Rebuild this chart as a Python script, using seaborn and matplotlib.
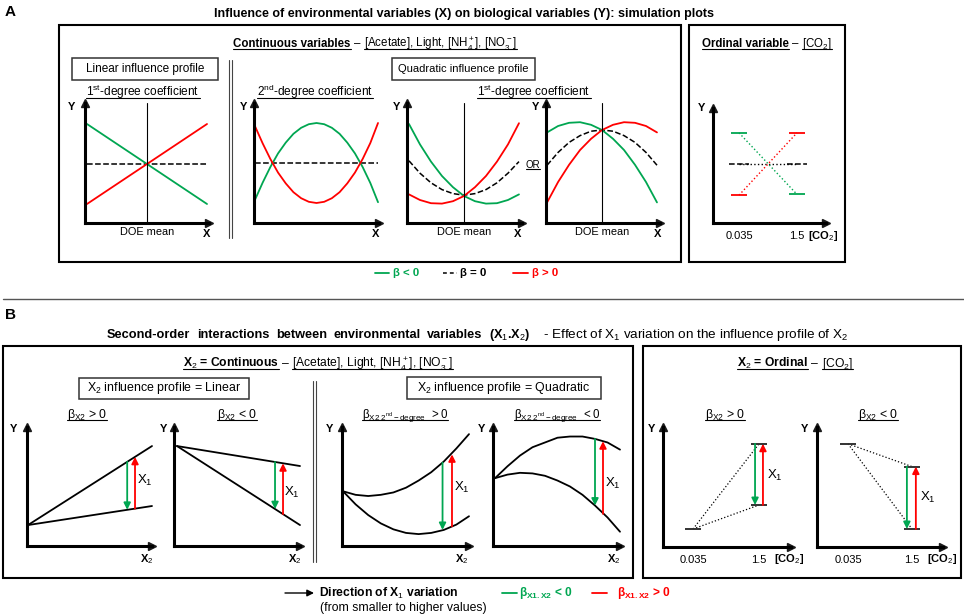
import matplotlib
matplotlib.use("Agg")
import matplotlib.pyplot as plt
import seaborn as sns
from matplotlib.patches import Rectangle

# ---- data ----
# panel A, continuous X (DOE mean = 0)
x_lin = [-1.0, 1.0]
lin_neg = [1.0, -1.0]
lin_zero = [0.0, 0.0]
lin_pos = [-1.0, 1.0]

x_sec = [-1.0, -0.875, -0.75, -0.625, -0.5, -0.375, -0.25, -0.125, 0.0,
         0.125, 0.25, 0.375, 0.5, 0.625, 0.75, 0.875, 1.0]
sec_neg = [-0.92, -0.49, -0.1, 0.24, 0.51, 0.73, 0.88, 0.97, 1.0,
           0.97, 0.88, 0.73, 0.51, 0.24, -0.1, -0.5, -0.98]
sec_zero = [0.0] * 17
sec_pos = [0.92, 0.49, 0.1, -0.24, -0.51, -0.73, -0.88, -0.97, -1.0,
           -0.97, -0.88, -0.73, -0.51, -0.24, 0.1, 0.5, 1.0]

x_deg = [-1.0, -0.8, -0.6, -0.4, -0.2, 0.0, 0.2, 0.4, 0.6, 0.8, 1.0]
qmin_neg = [1.0, 0.49, 0.06, -0.30, -0.58, -0.80, -0.93, -0.99, -0.98, -0.90, -0.76]
qmin_zero = [0.08, -0.23, -0.47, -0.64, -0.74, -0.78, -0.74, -0.64, -0.47, -0.23, 0.06]
qmin_pos = [-0.76, -0.90, -0.98, -0.99, -0.93, -0.80, -0.58, -0.30, 0.06, 0.49, 1.02]

qmax_neg = [0.79, 0.95, 1.03, 1.045, 0.98, 0.85, 0.63, 0.35, -0.02, -0.45, -0.96]
qmax_zero = [-0.03, 0.29, 0.54, 0.71, 0.82, 0.85, 0.82, 0.71, 0.54, 0.29, -0.03]
qmax_pos = [-0.96, -0.45, -0.02, 0.35, 0.63, 0.85, 0.98, 1.045, 1.03, 0.95, 0.79]

# panel A, ordinal [CO2]
co2_levels = ["0.035", "1.5"]
co2_pos = [0, 1]
ord_neg = [0.78, -0.76]
ord_zero = [0.0, 0.0]
ord_pos = [-0.78, 0.78]

# panel B, interactions
x_two = [0.0, 1.0]
blin_up_hi = [0.176, 0.84]
blin_up_lo = [0.176, 0.336]
blin_dn_hi = [0.84, 0.672]
blin_dn_lo = [0.84, 0.176]

x_b = [0.0, 0.1, 0.2, 0.3, 0.4, 0.5, 0.6, 0.7, 0.8, 0.9, 1.0]
bq_up_hi = [0.46, 0.43, 0.42, 0.43, 0.45, 0.49, 0.55, 0.62, 0.71, 0.82, 0.94]
bq_up_lo = [0.46, 0.35, 0.26, 0.19, 0.14, 0.11, 0.10, 0.11, 0.135, 0.18, 0.25]
bq_dn_hi = [0.57, 0.67, 0.76, 0.83, 0.87, 0.91, 0.92, 0.92, 0.90, 0.87, 0.81]
bq_dn_lo = [0.57, 0.60, 0.615, 0.61, 0.59, 0.55, 0.50, 0.43, 0.34, 0.24, 0.12]

bord_up = [0.15, 0.86, 0.35]   # low CO2, high CO2 (upper), high CO2 (lower)
bord_dn = [0.86, 0.67, 0.15]

# X1 arrows: (x, start, end)
arr_lin_up = [(0.80, 0.707, 0.304), (0.863, 0.314, 0.749)]
arr_lin_dn = [(0.797, 0.706, 0.31), (0.862, 0.268, 0.695)]
arr_q_up = [(0.79, 0.70, 0.135), (0.865, 0.165, 0.77)]
arr_q_dn = [(0.80, 0.90, 0.34), (0.864, 0.27, 0.88)]
arr_ord_up = [(0.94, 0.86, 0.35), (1.06, 0.35, 0.86)]
arr_ord_dn = [(0.92, 0.67, 0.15), (1.06, 0.15, 0.67)]

GREEN = "#00A651"
RED = "#FF0000"

sns.set_theme(style="white")
plt.rcParams["font.family"] = ["Liberation Sans", "DejaVu Sans"]
plt.rcParams["mathtext.fontset"] = "custom"
plt.rcParams["mathtext.rm"] = "Liberation Sans"
plt.rcParams["mathtext.it"] = "Liberation Sans:italic"
plt.rcParams["mathtext.bf"] = "Liberation Sans:bold"
plt.rcParams["text.color"] = "black"
plt.rcParams["xtick.color"] = "black"

W, H = 964, 616
fig = plt.figure(figsize=(W / 100, H / 100), dpi=100)
over = fig.add_axes([0, 0, 1, 1])
over.set_xlim(0, W)
over.set_ylim(H, 0)
over.axis("off")
R = fig.canvas.get_renderer()


def label(x, y, s, size=8, weight="normal", color="black", ha="center"):
    over.text(x, y, s, fontsize=size, fontweight=weight, color=color, ha=ha, va="center")


def rich(x, yc, parts, size=8, color="black", ha="center", extra=0.0):
    # parts: (text, weight, underline)
    base = yc + 0.36 * size * 100 / 72
    objs = []
    for s, w, ul in parts:
        t = over.text(0, base, s, fontsize=size, fontweight=w, color=color,
                      ha="left", va="baseline")
        objs.append((t, ul, t.get_window_extent(R).width))
    gap = 0.28 * size * 100 / 72 + extra
    total = sum(o[2] for o in objs) + gap * (len(objs) - 1)
    cur = x - total / 2 if ha == "center" else x
    for t, ul, w in objs:
        t.set_x(cur)
        if ul:
            over.plot([cur, cur + w], [base + 1.6, base + 1.6], color=color, lw=0.8)
        cur += w + gap


def box(l, t, r, b, lw=1.5, color="black"):
    over.add_patch(Rectangle((l, t), r - l, b - t, fill=False, lw=lw, edgecolor=color))


def mini(l, t, r, b, xlim, ylim):
    ax = fig.add_axes([l / W, 1 - b / H, (r - l) / W, (b - t) / H])
    ax.set_facecolor("none")
    for s in ["top", "right"]:
        ax.spines[s].set_visible(False)
    for s in ["left", "bottom"]:
        ax.spines[s].set_linewidth(2.2)
        ax.spines[s].set_color("black")
    ax.plot(1, 0, ">k", transform=ax.transAxes, clip_on=False, ms=6)
    ax.plot(0, 1, "^k", transform=ax.transAxes, clip_on=False, ms=6)
    ax.set_xticks([])
    ax.set_yticks([])
    ax.set_xlim(xlim)
    ax.set_ylim(ylim)
    return ax


def curve(ax, x, y, color, ls="-", lw=1.3):
    sns.lineplot(x=x, y=y, ax=ax, color=color, linestyle=ls, lw=lw, clip_on=False)
    ax.set_xlabel("")
    ax.set_ylabel("")


def x1_arrow(ax, x, y0, y1, color):
    ax.annotate("", xy=(x, y1), xytext=(x, y0),
                arrowprops=dict(arrowstyle="-|>", color=color, lw=1.3,
                                mutation_scale=10, shrinkA=0, shrinkB=0))


def doe_tick(ax):
    ax.set_xticks([0])
    ax.set_xticklabels(["DOE mean"])
    ax.tick_params(axis="x", length=0, pad=3, labelsize=7.9)
    ax.axvline(0, color="black", lw=0.8)


def co2_ticks(ax):
    ax.set_xticks(co2_pos)
    ax.set_xticklabels(co2_levels)
    ax.tick_params(axis="x", length=7, width=2.2, direction="inout", pad=2, labelsize=8)


def words(s, weight):
    return [(w, weight, False) for w in s.split(" ")]


# ================= panel A =================
label(10, 12, "A", size=11, weight="bold")
rich(464, 12, [("Influence of environmental variables (X) on biological variables (Y): simulation plots", "bold", False)], size=9)
box(59, 25, 681, 262)
box(689, 25, 845, 262)
rich(375, 43, [("Continuous variables", "bold", True), ("–", "normal", False),
               ("[Acetate], Light, [NH$_4^+$], [NO$_3^-$]", "normal", True)], size=8.3)
rich(767, 43, [("Ordinal variable", "bold", True), ("–", "normal", False),
               ("[CO$_2$]", "normal", True)], size=8.3)
box(72, 58, 218, 80, lw=1.1, color="#333333")
label(145, 69, "Linear influence profile", size=8.5)
box(392, 58, 535, 80, lw=1.1, color="#333333")
label(463.5, 69, "Quadratic influence profile", size=8.0)
for xx in (228.5, 231.5):
    over.plot([xx, xx], [60, 238], color="#444444", lw=0.8)
rich(143, 92, [("1$^{\\mathrm{st}}$-degree coefficient", "normal", True)], size=8.6)
rich(315, 92, [("2$^{\\mathrm{nd}}$-degree coefficient", "normal", True)], size=8.6)
rich(534, 92, [("1$^{\\mathrm{st}}$-degree coefficient", "normal", True)], size=8.6)
rich(533, 164, [("OR", "normal", True)], size=7)

ax = mini(85, 103, 209, 223, (-1.033, 1.033), (-1.475, 1.525))
curve(ax, x_lin, lin_zero, "black", "--", 1.1)
curve(ax, x_lin, lin_neg, GREEN)
curve(ax, x_lin, lin_pos, RED)
doe_tick(ax)

ax = mini(254, 103, 379, 223, (-1.016, 1.016), (-1.5, 1.5))
curve(ax, x_sec, sec_zero, "black", "--", 1.1)
curve(ax, x_sec, sec_neg, GREEN)
curve(ax, x_sec, sec_pos, RED)

ax = mini(407, 103, 522, 223, (-1.036, 1.055), (-1.475, 1.525))
curve(ax, x_deg, qmin_zero, "black", "--", 1.1)
curve(ax, x_deg, qmin_neg, GREEN)
curve(ax, x_deg, qmin_pos, RED)
doe_tick(ax)

ax = mini(546, 103, 660, 223, (-1.02, 1.055), (-1.475, 1.525))
curve(ax, x_deg, qmax_zero, "black", "--", 1.1)
curve(ax, x_deg, qmax_neg, GREEN)
curve(ax, x_deg, qmax_pos, RED)
doe_tick(ax)

ax = mini(713, 108, 826, 223, (-0.448, 1.5), (-1.475, 1.4))
curve(ax, co2_pos, ord_zero, "black", ":", 1.0)
curve(ax, co2_pos, ord_neg, GREEN, ":", 1.0)
curve(ax, co2_pos, ord_pos, RED, ":", 1.0)
for p in co2_pos:
    ax.hlines(ord_zero[p], p - 0.17, p + 0.17, colors="black", linestyles="--", lw=1.1)
    ax.hlines(ord_neg[p], p - 0.13, p + 0.13, colors=GREEN, lw=1.3)
    ax.hlines(ord_pos[p], p - 0.13, p + 0.13, colors=RED, lw=1.3)
co2_ticks(ax)

for xx, yy in [(72, 107), (244, 107), (397, 107), (536, 107), (702, 108)]:
    label(xx, yy, "Y", weight="bold")
for xx in (207, 376, 518, 658):
    label(xx, 234, "X", weight="bold")
label(823, 236, "[CO$_2$]", weight="bold")

# legend A
over.plot([375, 389], [273, 273], color=GREEN, lw=1.3)
label(393, 273, "β < 0", size=8.2, weight="bold", color=GREEN, ha="left")
over.plot([443, 457], [273, 273], color="black", lw=1.1, ls=(0, (2.5, 2)))
label(460, 273, "β = 0", size=8.2, weight="bold", ha="left")
over.plot([513, 528], [273, 273], color=RED, lw=1.3)
label(532, 273, "β > 0", size=8.2, weight="bold", color=RED, ha="left")

over.plot([3, 964], [299, 299], color="#555555", lw=1.0)

# ================= panel B =================
label(10, 315, "B", size=11, weight="bold")
rich(107, 333, words("Second-order interactions between environmental variables (X$_1$.X$_2$)", "bold"),
     size=9.2, ha="left", extra=3.0)
rich(543, 333, [("- Effect of X$_1$ variation on the influence profile of X$_2$", "normal", False)],
     size=9.7, ha="left")
box(3, 346, 633, 578)
box(643, 346, 961, 578)
rich(318, 363, [("X$_2$ = Continuous", "bold", True), ("–", "normal", False),
                ("[Acetate], Light, [NH$_4^+$], [NO$_3^-$]", "normal", True)], size=8.7)
rich(795, 363, [("X$_2$ = Ordinal", "bold", True), ("–", "normal", False),
                ("[CO$_2$]", "normal", True)], size=8.7)
box(79, 378, 249, 399, lw=1.1, color="#333333")
label(164, 388.5, "X$_2$ influence profile = Linear", size=8.9)
box(407, 377, 601, 399, lw=1.1, color="#333333")
label(504, 388, "X$_2$ influence profile = Quadratic", size=8.9)
for xx in (313, 316):
    over.plot([xx, xx], [381, 562], color="#444444", lw=0.8)

rich(87, 414, [("β$_{\\mathrm{X2}}$ > 0", "normal", True)], size=8.8)
rich(237, 414, [("β$_{\\mathrm{X2}}$ < 0", "normal", True)], size=8.8)
rich(405, 414, [("β$_{\\mathrm{X2\\ 2^{nd}-degree}}$  > 0", "normal", True)], size=8.3)
rich(557, 414, [("β$_{\\mathrm{X2\\ 2^{nd}-degree}}$  < 0", "normal", True)], size=8.3)
rich(725, 414, [("β$_{\\mathrm{X2}}$ > 0", "normal", True)], size=8.8)
rich(878, 414, [("β$_{\\mathrm{X2}}$ < 0", "normal", True)], size=8.8)

ax = mini(27, 427, 152, 546, (-0.008, 1.0), (0, 1))
curve(ax, x_two, blin_up_hi, "black")
curve(ax, x_two, blin_up_lo, "black")
x1_arrow(ax, *arr_lin_up[0], GREEN)
x1_arrow(ax, *arr_lin_up[1], RED)

ax = mini(174, 427, 300, 546, (-0.024, 1.0), (0, 1))
curve(ax, x_two, blin_dn_hi, "black")
curve(ax, x_two, blin_dn_lo, "black")
x1_arrow(ax, *arr_lin_dn[0], GREEN)
x1_arrow(ax, *arr_lin_dn[1], RED)

ax = mini(342, 427, 469, 546, (-0.008, 1.0), (0, 1))
curve(ax, x_b, bq_up_hi, "black")
curve(ax, x_b, bq_up_lo, "black")
x1_arrow(ax, *arr_q_up[0], GREEN)
x1_arrow(ax, *arr_q_up[1], RED)

ax = mini(493, 427, 620, 546, (-0.016, 1.0), (0, 1))
curve(ax, x_b, bq_dn_hi, "black")
curve(ax, x_b, bq_dn_lo, "black")
x1_arrow(ax, *arr_q_dn[0], GREEN)
x1_arrow(ax, *arr_q_dn[1], RED)

ax = mini(663, 427, 791, 547, (-0.455, 1.485), (0, 1))
curve(ax, co2_pos, bord_up[:2], "black", ":", 0.9)
curve(ax, co2_pos, [bord_up[0], bord_up[2]], "black", ":", 0.9)
ax.hlines(bord_up, [-0.12, 0.88, 0.88], [0.12, 1.12, 1.12], colors="#333333", lw=1.4)
x1_arrow(ax, *arr_ord_up[0], GREEN)
x1_arrow(ax, *arr_ord_up[1], RED)
co2_ticks(ax)

ax = mini(817, 427, 943, 547, (-0.484, 1.484), (0, 1))
curve(ax, co2_pos, bord_dn[:2], "black", ":", 0.9)
curve(ax, co2_pos, [bord_dn[0], bord_dn[2]], "black", ":", 0.9)
ax.hlines(bord_dn, [-0.12, 0.88, 0.88], [0.12, 1.12, 1.12], colors="#333333", lw=1.4)
x1_arrow(ax, *arr_ord_dn[0], GREEN)
x1_arrow(ax, *arr_ord_dn[1], RED)
co2_ticks(ax)

for xx in (14, 164, 330, 482, 652, 805):
    label(xx, 429, "Y", weight="bold")
for xx in (147, 295, 462, 614):
    label(xx, 559, "X$_2$", weight="bold")
label(789, 559, "[CO$_2$]", weight="bold")
label(942, 559, "[CO$_2$]", weight="bold")
for xx, yy in [(145, 480), (292, 492), (462, 487), (613, 483), (775, 475), (928, 497)]:
    label(xx, yy, "X$_1$", size=9.5)

# legend B
over.annotate("", xy=(314, 593), xytext=(285, 593),
              arrowprops=dict(arrowstyle="-|>", color="black", lw=1.0, mutation_scale=10,
                              shrinkA=0, shrinkB=0))
label(319, 593, "Direction of X$_1$ variation", size=8.7, weight="bold", ha="left")
label(320, 608, "(from smaller to higher values)", size=8.8, ha="left")
over.plot([502, 517], [593, 593], color=GREEN, lw=1.3)
label(519, 593, "β$_{\\mathbf{X1.X2}}$ < 0", size=8.6, weight="bold", color=GREEN, ha="left")
over.plot([592, 607], [593, 593], color=RED, lw=1.3)
label(617, 593, "β$_{\\mathbf{X1.X2}}$ > 0", size=8.6, weight="bold", color=RED, ha="left")

fig.savefig("out.png", dpi=100)
